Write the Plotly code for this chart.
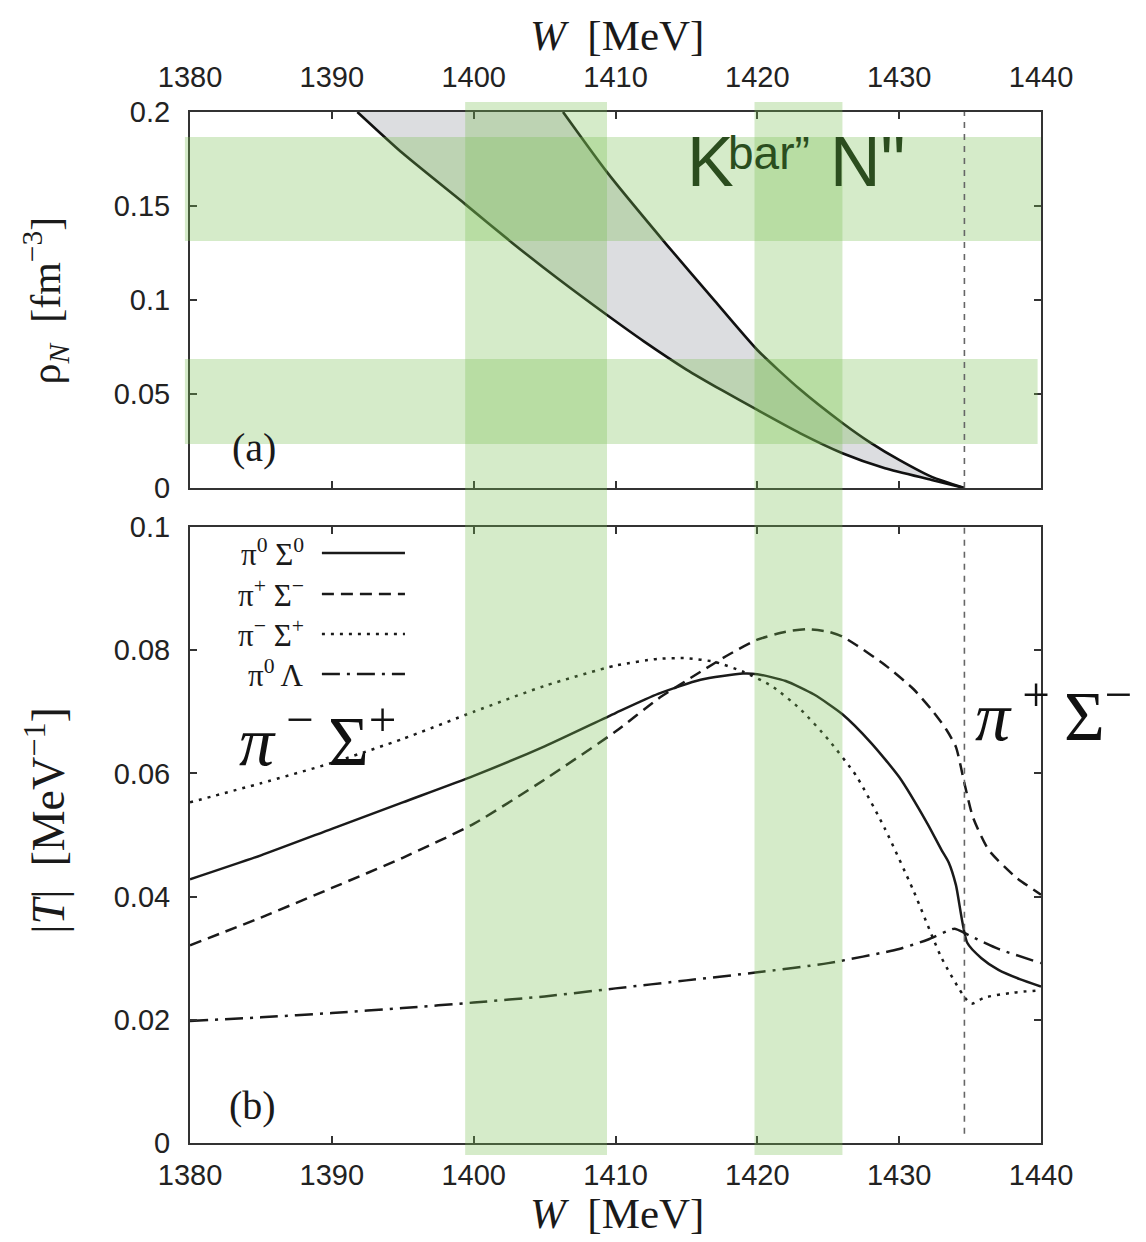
import plotly.graph_objects as go

# ---------------- data ----------------
# panel (a): density boundaries rho_N(W)
W_lower = [1391.8, 1395, 1399.4, 1402.7, 1406, 1409.4, 1412, 1415, 1417.5, 1420, 1423, 1426, 1429, 1432.3, 1434.6]
rho_lower = [0.200, 0.178, 0.151, 0.1305, 0.111, 0.092, 0.078, 0.063, 0.052, 0.0415, 0.0292, 0.0185, 0.0105, 0.0043, 0.0]
W_upper = [1406.3, 1409.4, 1413.6, 1417, 1420, 1423, 1426, 1428, 1430, 1432.3, 1434.6]
rho_upper = [0.200, 0.168, 0.1295, 0.0995, 0.0734, 0.0525, 0.0346, 0.024, 0.0149, 0.0059, 0.0]

# panel (b): |T| for each channel
W_pi0Sig0 = [1380, 1385, 1390, 1395, 1400, 1405, 1410, 1413, 1416, 1419, 1420, 1422, 1424, 1426, 1428, 1430, 1432, 1433, 1433.5, 1434.0, 1434.8, 1435.8, 1437, 1438.5, 1440]
T_pi0Sig0 = [0.0428, 0.0467, 0.0510, 0.0553, 0.0596, 0.0644, 0.0698, 0.0729, 0.0752, 0.0762, 0.0761, 0.0750, 0.0728, 0.0696, 0.0650, 0.0594, 0.0518, 0.0475, 0.0455, 0.0419, 0.0325, 0.0300, 0.0281, 0.0266, 0.0254]

W_pipSigm = [1380, 1385, 1390, 1395, 1400, 1405, 1410, 1413, 1416, 1418, 1420, 1422, 1423.5, 1425, 1426, 1427, 1429, 1431, 1432.3, 1433.3, 1434.0, 1434.6, 1435.2, 1436.3, 1438.2, 1440]
T_pipSigm = [0.0321, 0.0366, 0.0414, 0.0463, 0.0518, 0.0590, 0.0668, 0.0721, 0.0765, 0.0793, 0.0817, 0.0830, 0.0834, 0.0830, 0.0822, 0.0808, 0.0776, 0.0737, 0.0703, 0.0672, 0.0643, 0.0584, 0.0529, 0.0476, 0.0432, 0.0403]

W_pimSigp = [1380, 1385, 1390, 1395, 1400, 1405, 1410, 1413, 1415, 1417, 1419, 1421, 1423, 1425, 1427, 1429, 1431, 1433, 1434.6, 1435.1, 1436, 1438, 1440]
T_pimSigp = [0.0553, 0.0584, 0.0617, 0.0656, 0.0700, 0.0742, 0.0775, 0.0786, 0.0787, 0.0781, 0.0765, 0.0742, 0.0705, 0.0655, 0.0595, 0.0510, 0.0410, 0.0300, 0.0237, 0.0226, 0.0236, 0.0244, 0.0248]

W_pi0Lam = [1380, 1385, 1390, 1395, 1400, 1405, 1410, 1415, 1420, 1425, 1430, 1432, 1433.9, 1434.6, 1435.2, 1437, 1440]
T_pi0Lam = [0.0198, 0.0204, 0.0211, 0.0219, 0.0228, 0.0238, 0.0251, 0.0264, 0.0277, 0.0292, 0.0315, 0.0330, 0.0348, 0.0341, 0.0334, 0.0315, 0.0292]

channel_labels = ["π<sup>0</sup> Σ<sup>0</sup>", "π<sup>+</sup> Σ<sup>−</sup>", "π<sup>−</sup> Σ<sup>+</sup>", "π<sup>0</sup> Λ"]

# highlighted regions
W_bands = [(1399.4, 1409.4), (1419.8, 1426.0)]
rho_bands = [(0.1314, 0.1867), (0.0234, 0.0686)]
W_threshold = 1434.6

x_ticks = [1380, 1390, 1400, 1410, 1420, 1430, 1440]

# ---------------- figure ----------------
fig = go.Figure()

# grey region between the two density curves
poly_x = W_lower + W_upper[::-1]
poly_y = rho_lower + rho_upper[::-1]
fig.add_trace(go.Scatter(x=poly_x, y=poly_y, fill="toself", fillcolor="#dcdde0",
                         line=dict(width=0, shape="spline", smoothing=0.6), mode="lines", hoverinfo="skip",
                         xaxis="x", yaxis="y", showlegend=False))
fig.add_trace(go.Scatter(x=W_lower, y=rho_lower, mode="lines",
                         line=dict(color="#111", width=2.6, shape="spline", smoothing=0.6),
                         xaxis="x", yaxis="y", showlegend=False))
fig.add_trace(go.Scatter(x=W_upper, y=rho_upper, mode="lines",
                         line=dict(color="#111", width=2.6, shape="spline", smoothing=0.6),
                         xaxis="x", yaxis="y", showlegend=False))

styles = [("solid", W_pi0Sig0, T_pi0Sig0),
          ("12px,7px", W_pipSigm, T_pipSigm),
          ("3px,6px", W_pimSigp, T_pimSigp),
          ("18px,7px,3px,7px", W_pi0Lam, T_pi0Lam)]
for (dash, wx, ty), name in zip(styles, channel_labels):
    fig.add_trace(go.Scatter(x=wx, y=ty, mode="lines", name=name,
                             line=dict(color="#1a1a1a", width=2.5, dash=dash, shape="spline", smoothing=0.6),
                             xaxis="x2", yaxis="y2", showlegend=False))

# plot geometry (paper coords)
top_dom = [0.6353, 1.0]
bot_dom = [0.0, 0.5975]

shapes = []
green = "rgba(120,190,80,0.31)"
for (w0, w1) in W_bands:
    shapes.append(dict(type="rect", xref="x", yref="paper", x0=w0, x1=w1, y0=-0.0116, y1=1.0097,
                       fillcolor=green, line=dict(width=0), layer="above"))
for i, (r0, r1) in enumerate(rho_bands):
    shapes.append(dict(type="rect", xref="paper", yref="y", x0=-0.006, x1=1.0 if i == 0 else 0.996,
                       y0=r0, y1=r1, fillcolor=green, line=dict(width=0), layer="above"))
# threshold lines
shapes.append(dict(type="line", xref="x", yref="y domain", x0=W_threshold, x1=W_threshold, y0=0, y1=1,
                   line=dict(color="#666", width=1.6, dash="6px,6px"), layer="above"))
shapes.append(dict(type="line", xref="x2", yref="y2 domain", x0=W_threshold, x1=W_threshold, y0=0.015, y1=1,
                   line=dict(color="#666", width=1.6, dash="6px,6px"), layer="above"))

serif = "Liberation Serif"
sans = "Liberation Sans"

# manual legend (text left, line sample right)
leg_rows = [0.5723, 0.5325, 0.4937, 0.4549]
annotations = []
for (dash, _, _), name, yy in zip(styles, channel_labels, leg_rows):
    shapes.append(dict(type="line", xref="paper", yref="paper", x0=0.155, x1=0.2526, y0=yy, y1=yy,
                       line=dict(color="#1a1a1a", width=2.5, dash=dash)))
    annotations.append(dict(xref="paper", yref="paper", x=0.136, y=yy, text=name, showarrow=False,
                            xanchor="right", yanchor="middle",
                            font=dict(family=serif, size=31, color="#1a1a1a")))

kcol = "#2b4d1e"
annotations += [
    dict(xref="paper", yref="paper", x=0.502, y=1.074, text="<i>W</i>  [MeV]", showarrow=False,
         xanchor="center", yanchor="middle", font=dict(family=serif, size=43, color="#1a1a1a")),
    dict(xref="paper", yref="paper", x=0.502, y=-0.0679, text="<i>W</i>  [MeV]", showarrow=False,
         xanchor="center", yanchor="middle", font=dict(family=serif, size=43, color="#1a1a1a")),
    dict(xref="paper", yref="paper", x=-0.170, y=0.8176, text="ρ<sub><i>N</i></sub>  [fm<sup>−3</sup>]",
         showarrow=False, textangle=-90, xanchor="center", yanchor="middle",
         font=dict(family=serif, size=42, color="#1a1a1a")),
    dict(xref="paper", yref="paper", x=-0.170, y=0.313, text="|<i>T</i>|  [MeV<sup>−1</sup>]",
         showarrow=False, textangle=-90, xanchor="center", yanchor="middle",
         font=dict(family=serif, size=46, color="#1a1a1a")),
    dict(xref="paper", yref="paper", x=0.075, y=0.675, text="(a)", showarrow=False,
         xanchor="center", yanchor="middle", font=dict(family=serif, size=40, color="#1a1a1a")),
    dict(xref="paper", yref="paper", x=0.073, y=0.0359, text="(b)", showarrow=False,
         xanchor="center", yanchor="middle", font=dict(family=serif, size=40, color="#1a1a1a")),
    # K-bar "N" label, built from three pieces
    dict(xref="paper", yref="paper", x=0.582, y=0.9515, text="K", showarrow=False,
         xanchor="left", yanchor="middle", font=dict(family=sans, size=70, color=kcol)),
    dict(xref="paper", yref="paper", x=0.630, y=0.9600, text="bar”", showarrow=False,
         xanchor="left", yanchor="middle", font=dict(family=sans, size=46, color=kcol)),
    dict(xref="paper", yref="paper", x=0.750, y=0.9515, text="N\"", showarrow=False,
         xanchor="left", yanchor="middle", font=dict(family=sans, size=70, color=kcol)),
    dict(xref="paper", yref="paper", x=0.055, y=0.395, text="<i>π</i><sup> −</sup>\u2009Σ<sup>+</sup>",
         showarrow=False, xanchor="left", yanchor="middle", font=dict(family=serif, size=70, color="#111")),
    dict(xref="paper", yref="paper", x=0.920, y=0.419, text="<i>π</i><sup> +</sup>\u2009Σ<sup>−</sup>",
         showarrow=False, xanchor="left", yanchor="middle", font=dict(family=serif, size=70, color="#111")),
]

axis_common = dict(range=[1380, 1440], tickvals=x_ticks, ticks="inside", ticklen=7, tickwidth=1.5,
                   tickcolor="#333", showline=True, linecolor="#333", linewidth=2, mirror="ticks",
                   showgrid=False, zeroline=False,
                   tickfont=dict(family=sans, size=29, color="#222"))
yaxis_common = dict(ticks="inside", ticklen=7, tickwidth=1.5, tickcolor="#333", showline=True,
                    linecolor="#333", linewidth=2, mirror="ticks", showgrid=False, zeroline=False,
                    tickfont=dict(family=sans, size=29, color="#222"))

# the page body adds an 8px offset; margins compensate so the frames land where the reference has them
fig.update_layout(
    width=1138, height=1234, autosize=False,
    margin=dict(l=182, r=105, t=104, b=99),
    plot_bgcolor="white", paper_bgcolor="white",
    showlegend=False,
    xaxis=dict(**axis_common, anchor="y", side="top", ticklabelstandoff=11),
    yaxis=dict(**yaxis_common, domain=top_dom, range=[0, 0.2], dtick=0.05, anchor="x",
               ticklabelstandoff=12),
    xaxis2=dict(**axis_common, anchor="y2", side="bottom", ticklabelstandoff=5),
    yaxis2=dict(**yaxis_common, domain=bot_dom, range=[0, 0.1], dtick=0.02, anchor="x2",
                ticklabelstandoff=12),
    shapes=shapes,
    annotations=annotations,
)

fig.write_html("out.html")
